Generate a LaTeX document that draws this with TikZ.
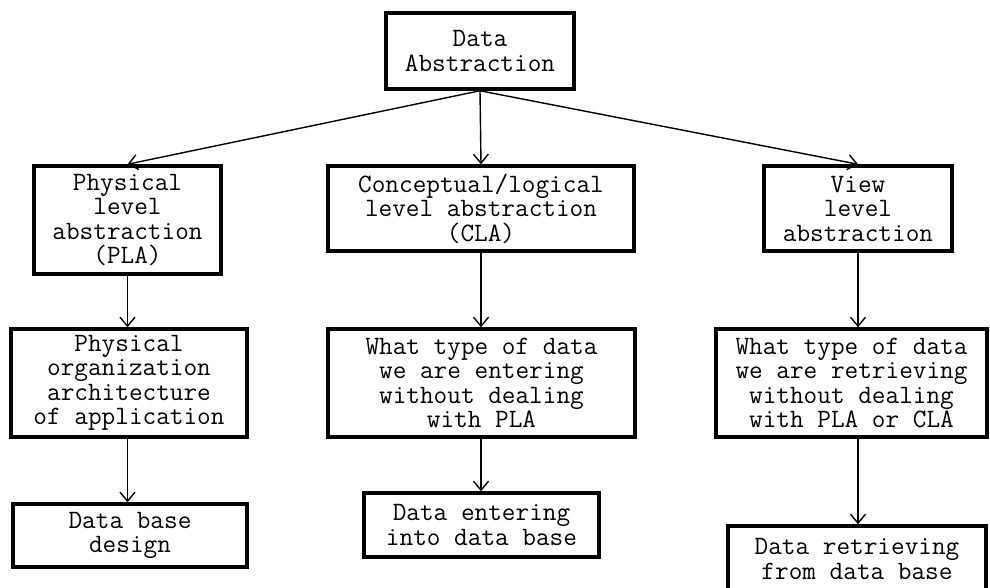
\documentclass[tikz,border=0pt]{standalone}
\usepackage{fontspec}
\usetikzlibrary{arrows.meta}
\tikzset{
  box/.style={draw=black, line width=3.5pt, fill=white, inner sep=0pt,
    align=center, font=\ttfamily\fontsize{26.5}{24.5}\selectfont},
  link/.style={draw=black, line width=1.4pt,
    -{Straight Barb[length=9pt,width=15pt,line width=1.4pt]}}
}
\begin{document}
\begin{tikzpicture}[x=1pt,y=-1pt]
  \useasboundingbox (0,0) rectangle (990,587);
  % top level
  \node[box, minimum width=188, minimum height=76] (top) at (480,51) {Data\\Abstraction};
  % abstraction levels
  \node[box, minimum width=187, minimum height=108] (pla) at (127.5,220) {Physical\\level\\abstraction\\(PLA)};
  \node[box, minimum width=306, minimum height=85] (cla) at (481,208.5) {Conceptual/logical\\level abstraction\\(CLA)};
  \node[box, minimum width=188, minimum height=85] (vla) at (858,208.5) {View\\level\\abstraction};
  % what each level deals with
  \node[box, minimum width=236, minimum height=108] (poa) at (129,383) {Physical\\organization\\architecture\\of application};
  \node[box, minimum width=307, minimum height=108] (ent) at (481.5,383) {What type of data\\we are entering\\without dealing\\with PLA};
  \node[box, minimum width=271, minimum height=108] (ret) at (851.5,383) {What type of data\\we are retrieving\\without dealing\\with PLA or CLA};
  % outcomes
  \node[box, minimum width=234, minimum height=63] (dbd) at (130,535.5) {Data base\\design};
  \node[box, minimum width=235, minimum height=64] (die) at (481.5,525) {Data entering\\into data base};
  \node[box, minimum width=258, minimum height=66] (drf) at (857,559) {Data retrieving\\from data base};
  % connectors
  \draw[link] (top.south) -- (pla.north);
  \draw[link] (top.south) -- (cla.north);
  \draw[link] (top.south) -- (vla.north);
  \draw[link] (pla.south) -- (pla.south |- poa.north);
  \draw[link] (pla.south |- poa.south) -- (pla.south |- dbd.north);
  \draw[link] (cla.south) -- (cla.south |- ent.north);
  \draw[link] (cla.south |- ent.south) -- (cla.south |- die.north);
  \draw[link] (vla.south) -- (vla.south |- ret.north);
  \draw[link] (vla.south |- ret.south) -- (vla.south |- drf.north);
\end{tikzpicture}
\end{document}
